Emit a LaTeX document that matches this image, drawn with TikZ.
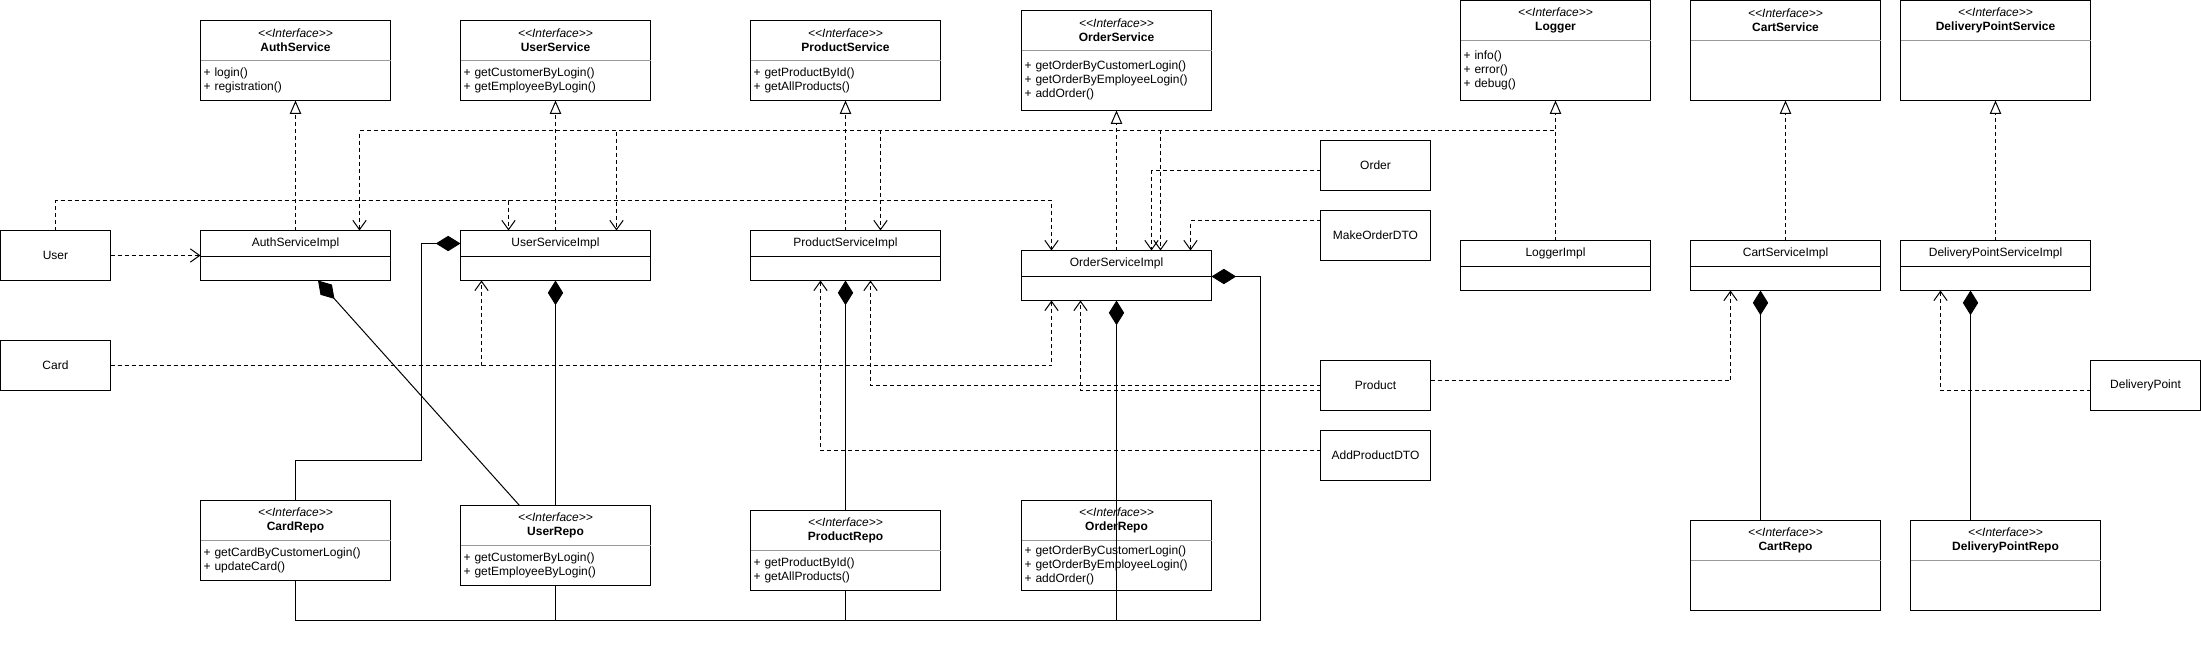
\documentclass[tikz,border=0pt]{standalone}
\usepackage{fontspec}
\setmainfont{Liberation Sans}
\usepackage{tikz}
\usetikzlibrary{arrows.meta, positioning, calc}
\newcommand{\ifacetag}{\textit{\textless\kern0pt\textless Interface\textgreater\kern0pt\textgreater}}
\tikzset{
    % class boxes
    iface/.style={rectangle, draw, minimum width=142.5pt, minimum height=30pt,
        align=center, inner sep=0pt, outer sep=0pt},
    ibody/.style={rectangle, draw, minimum width=142.5pt, text width=138pt,
        align=left, inner xsep=2.25pt, inner ysep=0pt, outer sep=0pt},
    impl/.style={rectangle, draw, minimum width=142.5pt, minimum height=19.5pt,
        inner sep=0pt, outer sep=0pt},
    implbody/.style={rectangle, draw, minimum width=142.5pt, minimum height=18pt,
        inner sep=0pt, outer sep=0pt},
    entity/.style={rectangle, draw, minimum width=82.5pt, minimum height=37.5pt,
        inner sep=0pt, outer sep=0pt},
    sepline/.style={draw=black!40},
    % connectors
    dashline/.style={dash pattern=on 3pt off 2.25pt},
    real/.style={dashline, -{Triangle[length=10pt, width=8.5pt, fill=white]}},
    dep/.style={dashline, -{Straight Barb[length=7pt, width=10pt]}},
    comp/.style={{Diamond[length=18.5pt, width=11.5pt]}-}
}
\begin{document}
\begin{tikzpicture}[x=0.75pt, y=-0.75pt, line width=0.75pt, font=\fontsize{9}{10.5}\selectfont]
    \useasboundingbox (0,0) rectangle (2201,647);

    % interfaces
    \node[iface] (AuthService) at (295.5,40.5) {\ifacetag\\\textbf{AuthService}};
    \node[ibody, below=0pt of AuthService, minimum height=30pt] (AuthServiceB) {+ login()\\+ registration()};
    \node[iface] (UserService) at (555.5,40.5) {\ifacetag\\\textbf{UserService}};
    \node[ibody, below=0pt of UserService, minimum height=30pt] (UserServiceB) {+ getCustomerByLogin()\\+ getEmployeeByLogin()};
    \node[iface] (ProductService) at (845.5,40.5) {\ifacetag\\\textbf{ProductService}};
    \node[ibody, below=0pt of ProductService, minimum height=30pt] (ProductServiceB) {+ getProductById()\\+ getAllProducts()};
    \node[iface] (OrderService) at (1116.5,30.5) {\ifacetag\\\textbf{OrderService}};
    \node[ibody, below=0pt of OrderService, minimum height=45pt] (OrderServiceB) {+ getOrderByCustomerLogin()\\+ getOrderByEmployeeLogin()\\+ addOrder()};
    \node[iface] (Logger) at (1555.5,20.5) {\ifacetag\\\textbf{Logger}};
    \node[ibody, below=0pt of Logger, minimum height=45pt] (LoggerB) {+ info()\\+ error()\\+ debug()};
    \node[iface] (CartService) at (1785.5,20.5) {\ifacetag\\\textbf{CartService}};
    \node[ibody, below=0pt of CartService, minimum height=45pt] (CartServiceB) {};
    \node[iface] (DeliveryPointService) at (1995.5,20.5) {\ifacetag\\\textbf{DeliveryPointService}};
    \node[ibody, below=0pt of DeliveryPointService, minimum height=45pt] (DeliveryPointServiceB) {};

    \node[iface] (CardRepo) at (295.5,520.5) {\ifacetag\\\textbf{CardRepo}};
    \node[ibody, below=0pt of CardRepo, minimum height=30pt] (CardRepoB) {+ getCardByCustomerLogin()\\+ updateCard()};
    \node[iface] (UserRepo) at (555.5,525.5) {\ifacetag\\\textbf{UserRepo}};
    \node[ibody, below=0pt of UserRepo, minimum height=30pt] (UserRepoB) {+ getCustomerByLogin()\\+ getEmployeeByLogin()};
    \node[iface] (ProductRepo) at (845.5,530.5) {\ifacetag\\\textbf{ProductRepo}};
    \node[ibody, below=0pt of ProductRepo, minimum height=30pt] (ProductRepoB) {+ getProductById()\\+ getAllProducts()};
    \node[iface] (OrderRepo) at (1116.5,520.5) {\ifacetag\\\textbf{OrderRepo}};
    \node[ibody, below=0pt of OrderRepo, minimum height=37.5pt] (OrderRepoB) {+ getOrderByCustomerLogin()\\+ getOrderByEmployeeLogin()\\+ addOrder()};
    \node[iface] (CartRepo) at (1785.5,540.5) {\ifacetag\\\textbf{CartRepo}};
    \node[ibody, below=0pt of CartRepo, minimum height=37.5pt] (CartRepoB) {};
    \node[iface] (DeliveryPointRepo) at (2005.5,540.5) {\ifacetag\\\textbf{DeliveryPointRepo}};
    \node[ibody, below=0pt of DeliveryPointRepo, minimum height=37.5pt] (DeliveryPointRepoB) {};

    \foreach \n in {AuthService, UserService, ProductService, OrderService, Logger, CartService,
        DeliveryPointService, CardRepo, UserRepo, ProductRepo, OrderRepo, CartRepo, DeliveryPointRepo}
        \draw[sepline] (\n.south west) -- (\n.south east);

    % implementations
    \node[impl] (AuthServiceImpl) at (295.5,243.5) {AuthServiceImpl};
    \node[implbody, below=0pt of AuthServiceImpl] (AuthServiceImplB) {};
    \node[impl] (UserServiceImpl) at (555.5,243.5) {UserServiceImpl};
    \node[implbody, below=0pt of UserServiceImpl] (UserServiceImplB) {};
    \node[impl] (ProductServiceImpl) at (845.5,243.5) {ProductServiceImpl};
    \node[implbody, below=0pt of ProductServiceImpl] (ProductServiceImplB) {};
    \node[impl] (OrderServiceImpl) at (1116.5,263.5) {OrderServiceImpl};
    \node[implbody, below=0pt of OrderServiceImpl] (OrderServiceImplB) {};
    \node[impl] (LoggerImpl) at (1555.5,253.5) {LoggerImpl};
    \node[implbody, below=0pt of LoggerImpl] (LoggerImplB) {};
    \node[impl] (CartServiceImpl) at (1785.5,253.5) {CartServiceImpl};
    \node[implbody, below=0pt of CartServiceImpl] (CartServiceImplB) {};
    \node[impl] (DeliveryPointServiceImpl) at (1995.5,253.5) {DeliveryPointServiceImpl};
    \node[implbody, below=0pt of DeliveryPointServiceImpl] (DeliveryPointServiceImplB) {};

    % entities
    \node[entity] (User) at (55.5,255.5) {User};
    \node[entity] (Card) at (55.5,365.5) {Card};
    \node[entity] (Order) at (1375.5,165.5) {Order};
    \node[entity] (MakeOrderDTO) at (1375.5,235.5) {MakeOrderDTO};
    \node[entity] (Product) at (1375.5,385.5) {Product};
    \node[entity] (AddProductDTO) at (1375.5,455.5) {AddProductDTO};
    \node[entity] (DeliveryPoint) at (2145.5,385.5) {DeliveryPoint};
    \coordinate (bus) at (1260.5,620.5);

    % realizations
    \draw[real] (AuthServiceImpl.north) -- (AuthServiceB.south);
    \draw[real] (UserServiceImpl.north) -- (UserServiceB.south);
    \draw[real] (ProductServiceImpl.north) -- (ProductServiceB.south);
    \draw[real] (OrderServiceImpl.north) -- (OrderServiceB.south);
    \draw[real] (LoggerImpl.north) -- (LoggerB.south);
    \draw[real] (CartServiceImpl.north) -- (CartServiceB.south);
    \draw[real] (DeliveryPointServiceImpl.north) -- (DeliveryPointServiceB.south);

    % dependencies
    \draw[dep] (User.east) -- (User.east -| AuthServiceImpl.west);
    \draw[dep] (User.north) -- ++(0,-30) -| ($(UserServiceImpl.north)+(-47,0)$);
    \draw[dep] (User.north) -- ++(0,-30) -| ($(OrderServiceImpl.north)+(-65,0)$);
    \draw[dep] (LoggerImpl.north) -- ++(0,-110) -| ($(AuthServiceImpl.north)+(64,0)$);
    \draw[dep] (LoggerImpl.north) -- ++(0,-110) -| ($(UserServiceImpl.north)+(61,0)$);
    \draw[dep] (LoggerImpl.north) -- ++(0,-110) -| ($(ProductServiceImpl.north)+(35,0)$);
    \draw[dep] (LoggerImpl.north) -- ++(0,-110) -| ($(OrderServiceImpl.north)+(44,0)$);
    \draw[dep] ($(Order.west)+(0,5)$) -| ($(OrderServiceImpl.north)+(35,0)$);
    \draw[dep] ($(MakeOrderDTO.west)+(0,-15)$) -| ($(OrderServiceImpl.north)+(74,0)$);
    \draw[dep] (Card.east) -| ($(UserServiceImplB.south)+(-74,0)$);
    \draw[dep] (Card.east) -| ($(OrderServiceImplB.south)+(-65,0)$);
    \draw[dep] (Product.west) -| ($(ProductServiceImplB.south)+(25,0)$);
    \draw[dep] ($(Product.west)+(0,5)$) -| ($(OrderServiceImplB.south)+(-36,0)$);
    \draw[dep] ($(Product.east)+(0,-5)$) -| ($(CartServiceImplB.south)+(-55,0)$);
    \draw[dep] ($(AddProductDTO.west)+(0,-5)$) -| ($(ProductServiceImplB.south)+(-25,0)$);
    \draw[dep] ($(DeliveryPoint.west)+(0,5)$) -| ($(DeliveryPointServiceImplB.south)+(-55,0)$);

    % compositions
    \draw[comp] (UserServiceImpl.west) -- ++(-39,0) -- ++(0,217) -| (CardRepo.north);
    \draw[comp] ($(AuthServiceImplB.south)+(22.5,0)$) -- ($(UserRepo.north)+(-36,0)$);
    \draw[comp] (UserServiceImplB.south) -- (UserRepo.north);
    \draw[comp] (ProductServiceImplB.south) -- (ProductRepo.north);
    \draw[comp] (OrderServiceImplB.south) -- (OrderRepoB.south |- bus);
    \draw[comp] (OrderServiceImpl.south east) -| (bus) -| (CardRepoB.south);
    \draw (UserRepoB.south) -- (UserRepoB.south |- bus);
    \draw (ProductRepoB.south) -- (ProductRepoB.south |- bus);
    \draw[comp] ($(CartServiceImplB.south)+(-25,0)$) -- ($(CartRepo.north)+(-25,0)$);
    \draw[comp] ($(DeliveryPointServiceImplB.south)+(-25,0)$) -- ($(DeliveryPointRepo.north)+(-35,0)$);
\end{tikzpicture}
\end{document}
